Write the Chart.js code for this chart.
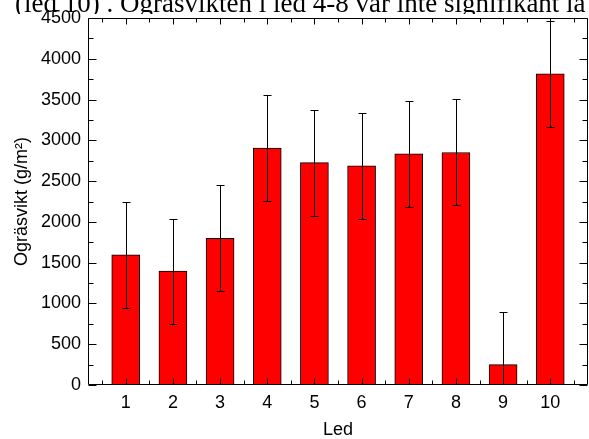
<!DOCTYPE html>
<html><head><meta charset="utf-8">
<script src="https://cdn.jsdelivr.net/npm/chart.js@4"></script>
<style>
html,body{margin:0;padding:0;background:#fff;}
#wrap{position:relative;width:589px;height:439px;overflow:hidden;background:#fff;}
#cap{position:absolute;left:0;top:0;width:589px;height:14px;overflow:hidden;}
#cap span{position:absolute;left:15px;top:-10px;font-family:"Liberation Serif","Times New Roman",serif;font-size:27px;line-height:27px;white-space:nowrap;color:#000;}
canvas{position:absolute;left:0;top:0;}
</style></head><body>
<div id="wrap"><canvas id="c" width="589" height="439"></canvas><div id="cap"><span>(led 10) . Ogräsvikten i led 4-8 var inte signifikant la</span></div></div>
<script>
const categories = [1, 2, 3, 4, 5, 6, 7, 8, 9, 10];
const values = [1595, 1396, 1798, 2904, 2727, 2686, 2836, 2851, 249, 3816];
const errors = [645, 645, 650, 650, 650, 645, 650, 650, 641, 647];
const yTickValues = [0, 500, 1000, 1500, 2000, 2500, 3000, 3500, 4000, 4500];
const xTickValues = [1, 2, 3, 4, 5, 6, 7, 8, 9, 10];
const xTitle = 'Led';
const yTitle = 'Ogräsvikt (g/m²)';

const FONT = '"Liberation Sans", Arial, sans-serif';

const framePlugin = {
  id: 'frame',
  afterDraw(chart) {
    const ctx = chart.ctx, a = chart.chartArea;
    const xs = chart.scales.x, ys = chart.scales.y;
    ctx.save();
    ctx.beginPath();
    ctx.rect(a.left, a.top - 1, a.right - a.left, a.bottom - a.top + 1);
    ctx.clip();
    ctx.strokeStyle = '#000';
    ctx.lineWidth = 1;
    categories.forEach((c, i) => {
      const x = Math.round(xs.getPixelForValue(c)) + 0.5;
      const yt = Math.round(ys.getPixelForValue(values[i] + errors[i])) + 0.5;
      const yb = Math.round(ys.getPixelForValue(values[i] - errors[i])) + 0.5;
      ctx.beginPath();
      ctx.moveTo(x, yt); ctx.lineTo(x, yb);
      ctx.moveTo(x - 4, yt); ctx.lineTo(x + 4, yt);
      ctx.moveTo(x - 4, yb); ctx.lineTo(x + 4, yb);
      ctx.stroke();
    });
    ctx.restore();

    ctx.save();
    ctx.strokeStyle = '#000';
    ctx.lineWidth = 1;
    const L = Math.round(a.left) + 0.5, R = Math.round(a.right) - 0.5;
    const T = Math.round(a.top) + 0.5, B = Math.round(a.bottom) - 0.5;
    ctx.beginPath();
    ctx.moveTo(L, T); ctx.lineTo(R, T);
    ctx.moveTo(R, T); ctx.lineTo(R, B);
    ctx.moveTo(R, B); ctx.lineTo(L, B);
    ctx.moveTo(L, B); ctx.lineTo(L, T);
    for (let v = 0; v <= 4500; v += 250) {
      const y = Math.round(ys.getPixelForValue(v)) + 0.5;
      const len = (v % 500 === 0) ? 8 : 5;
      ctx.moveTo(L, y); ctx.lineTo(L + len, y);
      ctx.moveTo(R, y); ctx.lineTo(R - len, y);
    }
    for (let v = 0.5; v <= 10.5; v += 0.5) {
      const x = Math.round(xs.getPixelForValue(v)) + 0.5;
      const len = (v % 1 === 0) ? 6 : 4;
      ctx.moveTo(x, B); ctx.lineTo(x, B - len);
      ctx.moveTo(x, T); ctx.lineTo(x, T + len);
    }
    ctx.stroke();
    ctx.restore();
  }
};

new Chart(document.getElementById('c'), {
  type: 'bar',
  data: {
    datasets: [{
      data: categories.map((c, i) => ({ x: c, y: values[i] })),
      backgroundColor: '#ff0000',
      borderColor: '#000000',
      borderWidth: 1,
      barThickness: 28
    }]
  },
  options: {
    responsive: false,
    animation: false,
    devicePixelRatio: 1,
    layout: { padding: { top: 18, right: 1, left: 0, bottom: 0 } },
    plugins: { legend: { display: false }, tooltip: { enabled: false } },
    scales: {
      x: {
        type: 'linear', min: 0.2, max: 10.8, offset: false,
        grid: { display: false, drawTicks: false, offset: false },
        border: { display: false },
        afterBuildTicks: s => { s.ticks = xTickValues.map(v => ({ value: v })); },
        afterFit: s => { s.height = 54; },
        ticks: { font: { family: FONT, size: 18 }, color: '#000', padding: 7, maxRotation: 0, autoSkip: false, callback: v => String(v) },
        title: { display: true, text: xTitle, color: '#000', font: { family: FONT, size: 18, lineHeight: 1 }, padding: 0 }
      },
      y: {
        min: 0, max: 4500,
        grid: { display: false, drawTicks: false },
        border: { display: false },
        afterBuildTicks: s => { s.ticks = yTickValues.map(v => ({ value: v })); },
        afterFit: s => { s.width = 88; },
        ticks: { font: { family: FONT, size: 18 }, color: '#000', padding: 7, autoSkip: false, callback: v => String(v) },
        title: { display: true, text: yTitle, color: '#000', font: { family: FONT, size: 18, lineHeight: 1.2 }, padding: { top: 11, bottom: 0 } }
      }
    }
  },
  plugins: [framePlugin]
});
</script>
</body></html>
